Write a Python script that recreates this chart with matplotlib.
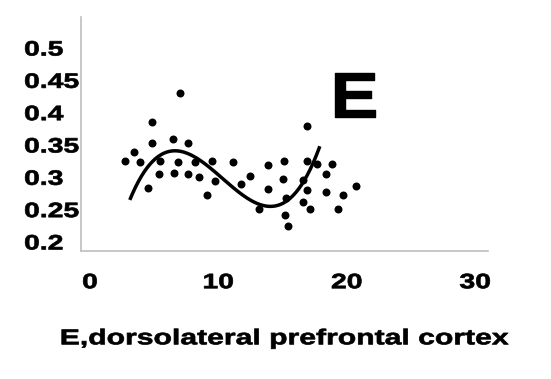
import numpy as np
import matplotlib
matplotlib.use("Agg")
import matplotlib.pyplot as plt
from matplotlib.patheffects import AbstractPathEffect
from matplotlib.transforms import Affine2D

# Scatter data (age vs. value)
x_vals = [7.0, 4.8, 4.8, 6.5, 7.65, 3.4, 2.7, 3.9, 5.45, 6.85, 8.2, 9.5, 11.1,
          5.4, 6.55, 7.6, 8.5, 9.75, 12.5, 11.8, 4.5, 9.1,
          16.9, 13.9, 15.1, 16.9, 17.7, 18.85, 15.0, 16.6, 18.4, 13.9, 16.9,
          20.7, 18.4, 19.7, 15.3, 16.6, 13.2, 17.15, 19.35, 15.2, 15.4]
y_vals = [0.431, 0.385, 0.353, 0.360, 0.353, 0.339, 0.325, 0.323, 0.325, 0.323, 0.323, 0.325, 0.323,
          0.305, 0.307, 0.305, 0.301, 0.294, 0.302, 0.289, 0.283, 0.273,
          0.379, 0.319, 0.325, 0.325, 0.321, 0.321, 0.298, 0.296, 0.305, 0.282, 0.280,
          0.287, 0.278, 0.272, 0.268, 0.262, 0.251, 0.251, 0.251, 0.242, 0.225]

# Trend curve anchor points, cubic through them
curve_x = [3.1, 6.7, 14.0, 17.9]
curve_y = [0.265, 0.341, 0.255, 0.348]

x_ticks = [0, 10, 20, 30]
y_ticks = [0.2, 0.25, 0.3, 0.35, 0.4, 0.45, 0.5]
y_tick_labels = ["0.2", "0.25", "0.3", "0.35", "0.4", "0.45", "0.5"]
x_label = "E,dorsolateral prefrontal cortex"
panel_label = "E"


class Stretch(AbstractPathEffect):
    """Draw text glyphs stretched horizontally (about left edge or centre), slightly emboldened."""
    def __init__(self, sx, about="center", stroke=0.5):
        super().__init__()
        self.sx = sx
        self.about = about
        self.stroke = stroke

    def draw_path(self, renderer, gc, tpath, affine, rgbFace=None):
        ext = tpath.get_extents()
        cx = (ext.x0 + ext.x1) / 2.0 if self.about == "center" else 0.0
        t = Affine2D().translate(-cx, 0).scale(self.sx, 1).translate(cx, 0)
        gc0 = renderer.new_gc()
        gc0.copy_properties(gc)
        gc0.set_linewidth(self.stroke)
        gc0.set_foreground(rgbFace if rgbFace is not None else "black")
        gc0.set_joinstyle("round")
        renderer.draw_path(gc0, tpath, t + affine, rgbFace)
        gc0.restore()


FONT = "Liberation Sans"
W, H = 551, 379
fig = plt.figure(figsize=(W / 100, H / 100), dpi=100)
ax = fig.add_axes([81 / W, 1 - 251 / H, 407 / W, 234 / H])

ax.scatter(x_vals, y_vals, s=33, color="black", zorder=3, linewidths=0)

coef = np.polyfit(curve_x, curve_y, 3)
xc = np.linspace(curve_x[0], curve_x[-1], 200)
ax.plot(xc, np.polyval(coef, xc), color="black", lw=2.5, zorder=4, solid_capstyle="butt")

ax.set_xlim(-0.7, 31.0)
ax.set_ylim(0.186, 0.548)

for s in ["top", "right"]:
    ax.spines[s].set_visible(False)
for s in ["left", "bottom"]:
    ax.spines[s].set_color("#bfbfbf")
    ax.spines[s].set_linewidth(1.2)

fontprops = dict(family=FONT, weight="bold", size=15)
ax.set_xticks(x_ticks)
ax.set_xticklabels([str(t) for t in x_ticks], **fontprops)
ax.set_yticks(y_ticks)
ax.set_yticklabels(y_tick_labels, **fontprops)
for lab in ax.get_yticklabels():
    lab.set_horizontalalignment("left")
    lab.set_path_effects([Stretch(1.36, about="left")])
for lab in ax.get_xticklabels():
    lab.set_path_effects([Stretch(1.36, about="center")])
ax.tick_params(axis="y", length=0, pad=41)
ax.tick_params(axis="x", length=0, pad=16)

xl = ax.set_xlabel(x_label, fontsize=15.5, fontweight="bold", family=FONT, labelpad=26)
xl.set_path_effects([Stretch(1.40, about="center")])

pl = fig.text(330 / W, 1 - 117 / H, panel_label, fontsize=46, fontweight="bold",
              family=FONT, ha="left", va="baseline")
pl.set_path_effects([Stretch(1.12, about="left", stroke=1.0)])

fig.savefig("out.png", dpi=100)
